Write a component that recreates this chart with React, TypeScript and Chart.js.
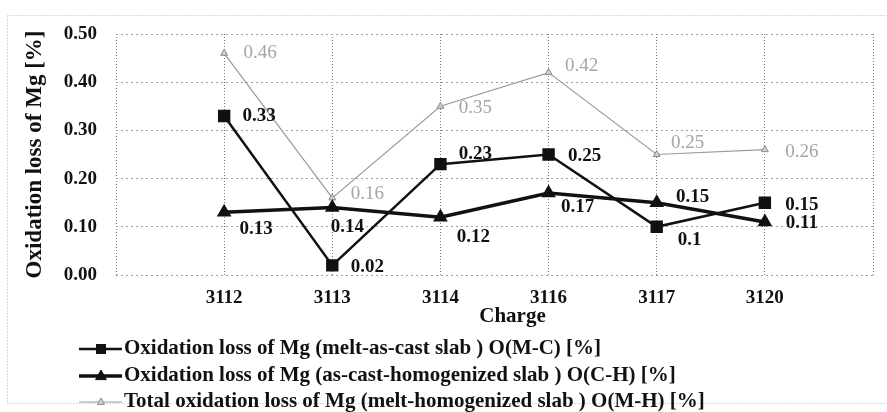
import React, { useEffect, useRef } from 'react';
import { Chart, registerables } from 'chart.js';

Chart.register(...registerables);

// ---- data ----
const categories = ['3112', '3113', '3114', '3116', '3117', '3120'];
const lossMC = [0.33, 0.02, 0.23, 0.25, 0.1, 0.15];
const lossCH = [0.13, 0.14, 0.12, 0.17, 0.15, 0.11];
const lossMH = [0.46, 0.16, 0.35, 0.42, 0.25, 0.26];
const seriesNames = [
  'Oxidation loss of Mg (melt-as-cast slab ) O(M-C) [%]',
  'Oxidation loss of Mg (as-cast-homogenized slab ) O(C-H) [%]',
  'Total oxidation loss of Mg (melt-homogenized slab ) O(M-H) [%]',
];
const yTickLabels = ['0.00', '0.10', '0.20', '0.30', '0.40', '0.50'];
const xTitle = 'Charge';
const yTitle = 'Oxidation loss of Mg [%]';

// ---- label placement (style only, pixel offsets from each point) ----
const labelOffsets: number[][][] = [
  [[35, 0], [35, 2], [35, -10], [36, 2], [33, 13], [37, 2]],
  [[32, 17], [15, 20], [33, 20], [29, 14], [36, -6], [37, 1]],
  [[36, 0], [35, -4], [35, 2], [33, -7], [31, -11], [37, 2]],
];

const SERIF = "'Liberation Serif', 'Times New Roman', serif";

const pad = (arr: number[]) => [null, ...arr, null];

const framePlugin = {
  id: 'frame',
  beforeDraw(chart: any) {
    const ctx = chart.ctx;
    ctx.save();
    ctx.strokeStyle = '#b5b5b5';
    ctx.lineWidth = 1;
    ctx.setLineDash([1, 2]);
    ctx.strokeRect(7.5, 15.5, 900, 388);
    ctx.restore();
  },
};

const pointLabelPlugin = {
  id: 'pointLabels',
  afterDatasetsDraw(chart: any) {
    const ctx = chart.ctx;
    chart.data.datasets.forEach((ds: any, i: number) => {
      const meta = chart.getDatasetMeta(i);
      ctx.save();
      ctx.font = i === 2 ? `19px ${SERIF}` : `bold 19px ${SERIF}`;
      ctx.fillStyle = i === 2 ? '#a5a5a5' : '#111111';
      ctx.textAlign = 'center';
      ctx.textBaseline = 'middle';
      meta.data.forEach((el: any, j: number) => {
        const v = ds.data[j];
        if (v == null) return;
        const o = labelOffsets[i][j - 1] || [30, 0];
        ctx.fillText(String(v), el.x + o[0], el.y + o[1]);
      });
      ctx.restore();
    });
  },
};

const legendPlugin = {
  id: 'customLegend',
  afterDraw(chart: any) {
    const ctx = chart.ctx;
    const area = chart.chartArea;
    // x axis title (slightly right of centre, as in the original)
    ctx.save();
    ctx.font = `bold 21px ${SERIF}`;
    ctx.fillStyle = '#111111';
    ctx.textAlign = 'center';
    ctx.textBaseline = 'middle';
    ctx.fillText(xTitle, (area.left + area.right) / 2 + 18, 317);
    ctx.restore();

    const rows = [349, 376, 402];
    chart.data.datasets.forEach((ds: any, i: number) => {
      const y = rows[i];
      ctx.save();
      ctx.strokeStyle = ds.borderColor;
      ctx.lineWidth = ds.borderWidth;
      ctx.beginPath();
      ctx.moveTo(79, y);
      ctx.lineTo(122, y);
      ctx.stroke();
      ctx.fillStyle = ds.pointBackgroundColor;
      ctx.strokeStyle = ds.pointBorderColor;
      ctx.lineWidth = 1;
      const cx = 101;
      if (i === 0) {
        ctx.fillRect(cx - 5, y - 5, 10, 10);
      } else {
        const r = i === 1 ? 6 : 4;
        ctx.beginPath();
        ctx.moveTo(cx, y - r);
        ctx.lineTo(cx + r * 0.9, y + r * 0.6);
        ctx.lineTo(cx - r * 0.9, y + r * 0.6);
        ctx.closePath();
        ctx.fill();
        ctx.stroke();
      }
      ctx.font = `bold 21px ${SERIF}`;
      ctx.fillStyle = '#111111';
      ctx.textAlign = 'left';
      ctx.textBaseline = 'middle';
      ctx.fillText(ds.label, 124, y);
      ctx.restore();
    });
  },
};

export default function App() {
  const ref = useRef<HTMLCanvasElement | null>(null);

  useEffect(() => {
    if (!ref.current) return;
    const chart = new Chart(ref.current, {
      type: 'line',
      data: {
        labels: ['', ...categories, ''],
        datasets: [
          {
            label: seriesNames[0],
            data: pad(lossMC),
            borderColor: '#111111',
            borderWidth: 2.5,
            pointStyle: 'rect',
            pointRadius: 7,
            pointBackgroundColor: '#111111',
            pointBorderColor: '#111111',
            tension: 0,
          },
          {
            label: seriesNames[1],
            data: pad(lossCH),
            borderColor: '#111111',
            borderWidth: 3.5,
            pointStyle: 'triangle',
            pointRadius: 5,
            pointBackgroundColor: '#111111',
            pointBorderColor: '#111111',
            tension: 0,
          },
          {
            label: seriesNames[2],
            data: pad(lossMH),
            borderColor: '#9a9a9a',
            borderWidth: 1.2,
            pointStyle: 'triangle',
            pointRadius: 4,
            pointBackgroundColor: '#d0d0d0',
            pointBorderColor: '#8a8a8a',
            pointBorderWidth: 1,
            tension: 0,
          },
        ] as any,
      },
      options: {
        animation: false,
        responsive: true,
        maintainAspectRatio: false,
        layout: { padding: { left: 0, top: 34, right: 14, bottom: 0 } },
        plugins: {
          legend: { display: false },
          tooltip: { enabled: false },
        },
        scales: {
          x: {
            type: 'category',
            offset: false,
            afterFit: (s: any) => {
              s.height = 137;
            },
            grid: { color: '#7a7a7a', drawTicks: false, lineWidth: 1 },
            border: { display: false, dash: [1, 2] },
            ticks: {
              autoSkip: false,
              maxRotation: 0,
              padding: 12,
              color: '#111111',
              font: { family: SERIF, size: 19, weight: 'bold' },
            },
            title: { display: false },
          },
          y: {
            min: 0,
            max: 0.5,
            afterFit: (s: any) => {
              s.width = 116;
            },
            grid: { color: '#a0a0a0', drawTicks: false, lineWidth: 1 },
            border: { display: false, dash: [2, 3] },
            ticks: {
              stepSize: 0.1,
              padding: 19,
              color: '#111111',
              font: { family: SERIF, size: 19, weight: 'bold' },
              callback: (_v: any, idx: number) => yTickLabels[idx],
            },
            title: {
              display: true,
              text: yTitle,
              color: '#111111',
              font: { family: SERIF, size: 23, weight: 'bold' },
              padding: { top: 21, bottom: 0 },
            },
          },
        },
      } as any,
      plugins: [framePlugin, pointLabelPlugin, legendPlugin],
    });
    return () => chart.destroy();
  }, []);

  return (
    <div style={{ position: 'absolute', left: 0, top: 0, width: 887, height: 412 }}>
      <canvas ref={ref} />
    </div>
  );
}
